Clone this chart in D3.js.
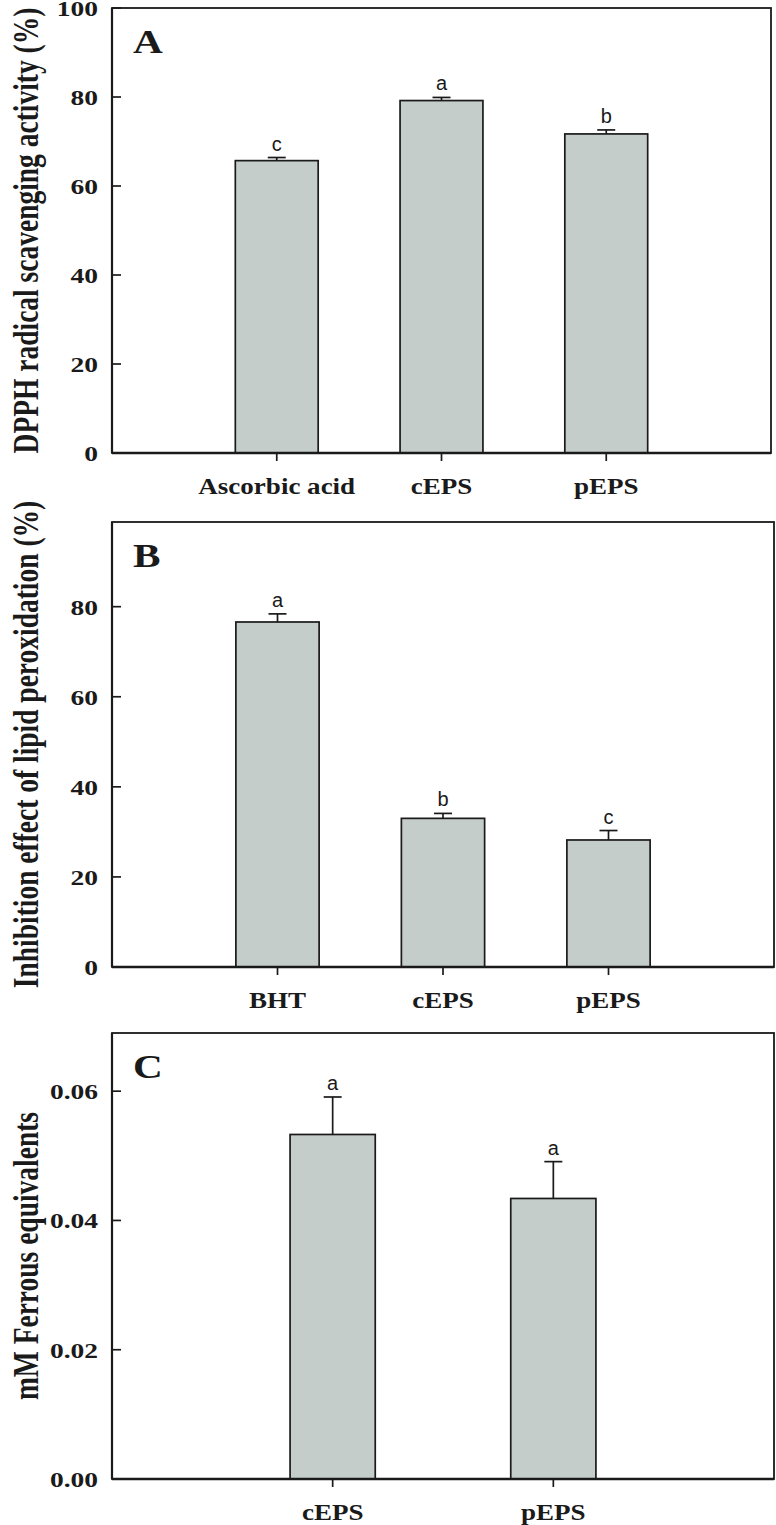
<!DOCTYPE html>
<html>
<head>
<meta charset="utf-8">
<script src="https://cdn.jsdelivr.net/npm/d3@7"></script>
<style>
  html, body { margin: 0; padding: 0; background: #fff; }
  svg { display: block; }
</style>
</head>
<body>
<svg id="chart" width="776" height="1525"></svg>
<script>
// ---------- DATA ----------
const catsA = ["Ascorbic acid", "cEPS", "pEPS"];
const valsA = [65.7, 79.2, 71.7];
const errA  = [0.7, 0.7, 0.9];
const sigA  = ["c", "a", "b"];
const ticksA = [0, 20, 40, 60, 80, 100];
const labelA = "DPPH radical scavenging activity (%)";

const catsB = ["BHT", "cEPS", "pEPS"];
const valsB = [76.6, 33.0, 28.2];
const errB  = [1.8, 1.1, 2.1];
const sigB  = ["a", "b", "c"];
const ticksB = [0, 20, 40, 60, 80];
const labelB = "Inhibition effect of lipid peroxidation (%)";

const catsC = ["cEPS", "pEPS"];
const valsC = [0.0533, 0.0434];
const errC  = [0.0058, 0.0057];
const sigC  = ["a", "a"];
const ticksC = [0, 0.02, 0.04, 0.06];
const labelC = "mM Ferrous equivalents";

// ---------- LAYOUT ----------
const svg = d3.select("#chart");
const FILL = "#c5cdca";
const INK = "#1a1a1a";
const SERIF = "'Liberation Serif','Times New Roman',Times,serif";
const SANS = "'Liberation Sans',Arial,Helvetica,sans-serif";

const panels = [
  { letter: "A", cats: catsA, vals: valsA, errs: errA, sig: sigA, ticks: ticksA, fmt: d3.format("d"),
    ymax: 100, top: 8, bottom: 453, left: 112, right: 771, barFrac: 0.503 },
  { letter: "B", cats: catsB, vals: valsB, errs: errB, sig: sigB, ticks: ticksB, fmt: d3.format("d"),
    ymax: 98.8, top: 522, bottom: 967, left: 112, right: 774, barFrac: 0.503 },
  { letter: "C", cats: catsC, vals: valsC, errs: errC, sig: sigC, ticks: ticksC, fmt: d3.format(".2f"),
    ymax: 0.069, top: 1033, bottom: 1479, left: 112, right: 774, barFrac: 0.386 }
];
const labels = [labelA, labelB, labelC];

panels.forEach((p, pi) => {
  const g = svg.append("g");
  const y = d3.scaleLinear().domain([0, p.ymax]).range([p.bottom, p.top]);
  // categories sit at positions 1..n on an axis running 0..n+1
  const x = d3.scaleLinear().domain([0, p.cats.length + 1]).range([p.left, p.right]);
  const pos = i => x(i + 1);
  const bw = (x(1) - x(0)) * p.barFrac;

  // frame
  g.append("rect")
    .attr("x", p.left).attr("y", p.top)
    .attr("width", p.right - p.left).attr("height", p.bottom - p.top)
    .attr("fill", "none").attr("stroke", INK).attr("stroke-width", 1.8);

  // bars
  g.selectAll("rect.bar").data(p.vals).join("rect")
    .attr("class", "bar")
    .attr("x", (d, i) => pos(i) - bw / 2)
    .attr("y", d => y(d))
    .attr("width", bw)
    .attr("height", d => y(0) - y(d))
    .attr("fill", FILL).attr("stroke", INK).attr("stroke-width", 1.7);

  // error bars + significance letters
  const capW = 18;
  p.vals.forEach((v, i) => {
    const top = y(v + p.errs[i]);
    g.append("line")
      .attr("x1", pos(i)).attr("x2", pos(i))
      .attr("y1", y(v)).attr("y2", top)
      .attr("stroke", INK).attr("stroke-width", 1.7);
    g.append("line")
      .attr("x1", pos(i) - capW / 2).attr("x2", pos(i) + capW / 2)
      .attr("y1", top).attr("y2", top)
      .attr("stroke", INK).attr("stroke-width", 1.7);
    g.append("text")
      .attr("x", pos(i)).attr("y", top - 7)
      .attr("text-anchor", "middle")
      .attr("font-family", SANS).attr("font-size", 20)
      .attr("fill", INK)
      .text(p.sig[i]);
  });

  // axis lines (thicker left & bottom)
  g.append("line").attr("x1", p.left).attr("x2", p.right)
    .attr("y1", p.bottom).attr("y2", p.bottom)
    .attr("stroke", INK).attr("stroke-width", 2.6);
  g.append("line").attr("x1", p.left).attr("x2", p.left)
    .attr("y1", p.top).attr("y2", p.bottom)
    .attr("stroke", INK).attr("stroke-width", 2.2);

  // y ticks (inward) + labels
  p.ticks.forEach(t => {
    g.append("line")
      .attr("x1", p.left).attr("x2", p.left + 9)
      .attr("y1", y(t)).attr("y2", y(t))
      .attr("stroke", INK).attr("stroke-width", 1.7);
    g.append("text")
      .attr("transform", `translate(98,${y(t) + 8}) scale(1.25,1)`)
      .attr("text-anchor", "end")
      .attr("font-family", SERIF).attr("font-weight", "bold").attr("font-size", 22)
      .attr("fill", INK)
      .text(p.fmt(t));
  });

  // x ticks (outward) + labels
  p.cats.forEach((c, i) => {
    g.append("line")
      .attr("x1", pos(i)).attr("x2", pos(i))
      .attr("y1", p.bottom).attr("y2", p.bottom + 8)
      .attr("stroke", INK).attr("stroke-width", 1.7);
    g.append("text")
      .attr("transform", `translate(${pos(i)},${p.bottom + 41}) scale(1.15,1)`)
      .attr("text-anchor", "middle")
      .attr("font-family", SERIF).attr("font-weight", "bold").attr("font-size", 23.5)
      .attr("fill", INK)
      .text(c);
  });

  // panel letter
  g.append("text")
    .attr("transform", `translate(${p.left + 21},${p.top + 45}) scale(1.25,1)`)
    .attr("font-family", SERIF).attr("font-weight", "bold").attr("font-size", 33)
    .attr("fill", INK)
    .text(p.letter);

  // y label, centred on the plot
  g.append("text")
    .attr("transform", `translate(38,${(p.top + p.bottom) / 2}) rotate(-90) scale(1,1.3)`)
    .attr("text-anchor", "middle")
    .attr("font-family", SERIF).attr("font-weight", "bold").attr("font-size", 27.5)
    .attr("fill", INK)
    .text(labels[pi]);
});
</script>
</body>
</html>
